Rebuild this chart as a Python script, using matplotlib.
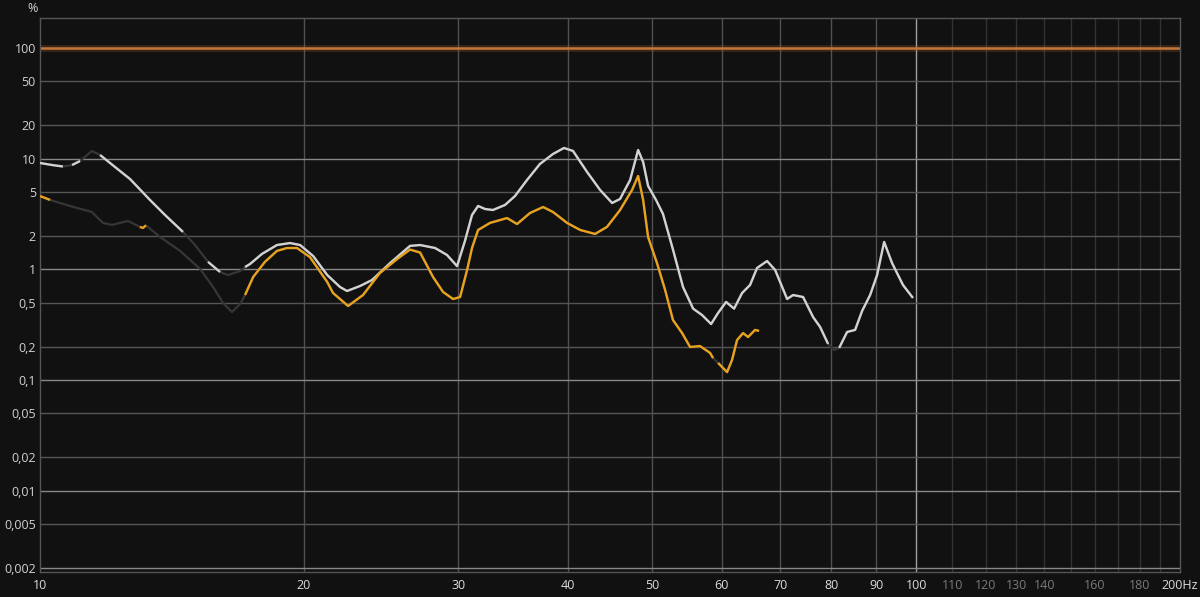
import numpy as np
import matplotlib
matplotlib.use("Agg")
import matplotlib.pyplot as plt

plt.rcParams['font.family'] = ['Open Sans', 'DejaVu Sans']

### data (Hz, %)
white_freq = [10.0, 10.32, 10.62, 10.88, 11.11, 11.46, 11.71, 12.18, 12.67, 13.35,
              13.89, 14.56, 15.03, 15.55, 16.05, 16.39, 16.92, 17.14, 17.37, 17.92,
              18.64, 19.29, 19.81, 20.50, 21.27, 22.00, 22.41, 23.19, 23.93, 25.09,
              26.44, 27.15, 28.24, 29.14, 29.92, 30.55, 31.12, 31.62, 32.21, 32.88,
              33.94, 34.84, 35.96, 37.20, 38.50, 39.63, 40.58, 42.11, 43.57, 44.97,
              45.92, 47.15, 48.15, 48.79, 49.43, 50.47, 51.40, 52.77, 54.18, 55.64,
              56.96, 58.33, 59.41, 60.67, 61.96, 63.28, 64.62, 65.82, 67.57, 69.02,
              71.23, 72.36, 74.28, 76.26, 77.68, 79.33, 80.59, 81.66, 83.39, 85.16,
              86.74, 88.59, 90.23, 91.91, 93.85, 96.58, 99.15]
white_pct = [9.15, 8.77, 8.50, 8.77, 9.53, 11.74, 10.8, 8.41, 6.55, 4.24,
             3.10, 2.18, 1.66, 1.17, 0.947, 0.890, 0.967, 1.05, 1.12, 1.38,
             1.66, 1.73, 1.66, 1.32, 0.89, 0.693, 0.638, 0.708, 0.802, 1.14,
             1.63, 1.66, 1.56, 1.35, 1.07, 1.81, 3.10, 3.74, 3.51, 3.44,
             3.82, 4.60, 6.42, 8.96, 11.03, 12.50, 11.74, 7.58, 5.22, 3.98,
             4.33, 6.42, 11.98, 9.34, 5.67, 4.24, 3.17, 1.51, 0.693, 0.442,
             0.387, 0.321, 0.404, 0.508, 0.442, 0.612, 0.723, 1.03, 1.19, 0.988,
             0.540, 0.587, 0.563, 0.371, 0.302, 0.212, 0.187, 0.195, 0.272, 0.284,
             0.421, 0.587, 0.890, 1.77, 1.14, 0.723, 0.552]
# frequency spans where the white trace is drawn bright (rest is dimmed)
white_lit = [(10.0, 10.65), (10.85, 11.15), (11.65, 14.6), (15.5, 16.1),
             (17.1, 79.4), (81.5, 100.0)]

orange_freq = [10.0, 10.27, 10.82, 11.46, 11.80, 12.08, 12.60, 13.00, 13.11, 13.21,
               13.71, 14.45, 15.23, 15.76, 16.18, 16.56, 16.92, 17.14, 17.51, 18.06,
               18.64, 19.14, 19.65, 20.33, 21.27, 21.60, 22.47, 23.37, 24.43, 25.56,
               26.44, 27.15, 28.09, 28.84, 29.61, 30.16, 30.72, 31.12, 31.62, 32.63,
               34.12, 35.03, 36.24, 37.51, 38.50, 39.95, 41.35, 43.00, 44.37, 45.92,
               47.39, 48.15, 48.79, 49.43, 50.60, 51.69, 52.77, 54.05, 55.20, 56.65,
               58.17, 58.64, 59.41, 60.83, 61.63, 62.45, 63.44, 64.29, 65.47, 66.17]
orange_pct = [4.60, 4.24, 3.74, 3.30, 2.63, 2.52, 2.74, 2.42, 2.37, 2.50,
              1.96, 1.47, 1.01, 0.693, 0.497, 0.412, 0.487, 0.587, 0.854, 1.17,
              1.47, 1.56, 1.56, 1.29, 0.770, 0.612, 0.467, 0.587, 0.928, 1.24,
              1.51, 1.42, 0.854, 0.625, 0.540, 0.563, 0.988, 1.56, 2.27, 2.63,
              2.91, 2.57, 3.23, 3.66, 3.30, 2.63, 2.27, 2.09, 2.42, 3.44,
              5.22, 6.98, 4.24, 1.96, 1.14, 0.652, 0.349, 0.266, 0.199, 0.203,
              0.176, 0.158, 0.143, 0.118, 0.152, 0.230, 0.266, 0.245, 0.284, 0.278]
orange_lit = [(10.0, 10.3), (12.95, 13.25), (17.1, 58.7), (59.3, 66.5)]

ref_level = 100  # %

x_ticks = [10, 20, 30, 40, 50, 60, 70, 80, 90, 100, 110, 120, 130, 140, 150,
           160, 170, 180, 190, 200]
x_labels = ['10', '20', '30', '40', '50', '60', '70', '80', '90', '100', '110',
            '120', '130', '140', '', '160', '', '180', '', '200Hz']
y_ticks = [100, 50, 20, 10, 5, 2, 1, 0.5, 0.2, 0.1, 0.05, 0.02, 0.01, 0.005, 0.002]
y_labels = ['100', '50', '20', '10', '5', '2', '1', '0,5', '0,2', '0,1', '0,05',
            '0,02', '0,01', '0,005', '0,002']

BG = '#111111'
DIM = '#363636'


def draw_trace(ax, freq, pct, lit, color):
    freq = np.array(freq)
    pct = np.array(pct)
    ax.plot(freq, pct, color=DIM, lw=1.6, solid_capstyle='butt',
            solid_joinstyle='round', zorder=3)
    for lo, hi in lit:
        m = (freq >= lo) & (freq <= hi)
        ax.plot(freq[m], pct[m], color=color, lw=1.7, solid_capstyle='butt',
                solid_joinstyle='round', zorder=4)


fig = plt.figure(figsize=(12, 5.97), dpi=100, facecolor=BG)
ax = fig.add_axes([40 / 1200, 25 / 597, 1140 / 1200, 554 / 597])
ax.set_facecolor(BG)
ax.set_xscale('log')
ax.set_yscale('log')
ax.set_xlim(10, 200)
ax.set_ylim(0.001847, 186.6)

ax.set_xticks(x_ticks, x_labels)
ax.set_yticks(y_ticks, y_labels)
ax.minorticks_off()
ax.tick_params(length=0, labelsize=9, colors='#dcdcdc', pad=5)
ax.tick_params(axis='y', pad=3)

# grid lines, brightness depends on the line
for f in x_ticks[1:-1]:
    if f == 100:
        c = '#a0a0a0'
    elif f > 100:
        c = '#333333'
    else:
        c = '#505050'
    ax.axvline(f, color=c, lw=1.0, zorder=1)
for p in y_ticks:
    if p in (10, 1, 0.1, 0.01, 0.002):
        c = '#888888'
    else:
        c = '#555555'
    ax.axhline(p, color=c, lw=1.0, zorder=1)

for t, f in zip(ax.get_xticklabels(), x_ticks):
    if 100 < f < 200:
        t.set_color('#7a7a7a')
for t in ax.get_yticklabels():
    t.set_color('#d2d2d2')

for s in ax.spines.values():
    s.set_color('#555555')
    s.set_linewidth(1.0)

# reference line at 100 % with a soft glow
ax.axhline(ref_level, color='#b8682e', lw=5, alpha=0.22, zorder=2)
ax.axhline(ref_level, color='#c47538', lw=1.8, zorder=2)

draw_trace(ax, white_freq, white_pct, white_lit, '#d2d2d2')
draw_trace(ax, orange_freq, orange_pct, orange_lit, '#e8a21e')

fig.text(33 / 1200, 1 - 8 / 597, '%', color='#d2d2d2', fontsize=9,
         ha='center', va='center')

fig.savefig('out.png', dpi=100, facecolor=BG)
